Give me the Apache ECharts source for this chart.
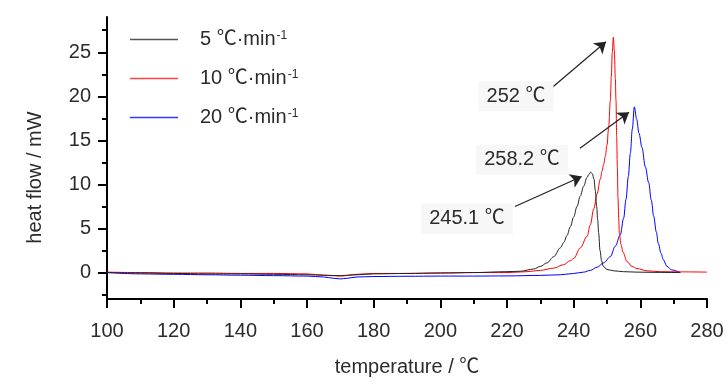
<!DOCTYPE html>
<html><head><meta charset="utf-8">
<script src="https://cdn.jsdelivr.net/npm/echarts@6/dist/echarts.min.js"></script>
<style>html,body{margin:0;padding:0;background:#fff}#c{width:728px;height:390px}</style>
</head><body><div id="c"></div>
<script>
const FONT = "'Liberation Sans','Noto Sans CJK SC',sans-serif";
const FS = 20;
const TXT = '#2b2b2b';

const seriesNames = ['5 ℃·min-1', '10 ℃·min-1', '20 ℃·min-1'];
const seriesColors = ['#222222', '#ff0000', '#0000ff'];
const legendColors = ['#555555', '#ff4545', '#3535ff'];

const tempBlack = [100,110,120,130,140,150,160,165,170,175,180,190,200,210,220,224,228,230,232,234,236,237,238,239,240,241,242,243,244,244.5,245.1,245.6,246.1,246.5,246.9,247.2,247.5,247.9,248.4,248.9,250,252,255,259,265,272];
const flowBlack = [0,-0.05,-0.1,-0.15,-0.15,-0.2,-0.25,-0.3,-0.35,-0.25,-0.15,-0.1,-0.05,0,0.1,0.15,0.4,0.7,1.1,1.8,2.8,3.4,4.2,5.2,6.3,7.5,8.7,9.8,10.8,11.1,11.4,11.2,10.6,9.3,7.5,6.0,4.5,2.5,1.3,0.7,0.35,0.2,0.1,0.05,0.02,0];

const tempRed = [100,110,120,130,140,150,160,165,170,175,180,190,200,210,220,226,230,234,237,239,240,242,244,245,246,247,248,248.5,249,249.5,250,250.5,251,251.3,251.6,251.9,252.2,252.5,252.7,252.9,253.1,253.3,253.5,253.7,254.2,254.8,256,257.5,259,262,266,272,280];
const flowRed = [0.05,0,-0.05,-0.05,-0.1,-0.1,-0.15,-0.3,-0.4,-0.2,-0.1,-0.1,-0.05,0,0,0.1,0.25,0.5,0.9,1.35,1.6,2.8,4.1,5.4,7.2,8.9,10.6,11.5,12.3,13.2,14.5,16.5,19.5,22.3,25.0,26.7,25.2,22.0,19.5,15.5,12.0,8.5,6.2,4.5,3.2,2.3,1.25,0.7,0.45,0.2,0.1,0.08,0.05];

const tempBlue = [100,110,120,130,140,150,160,165,168,170,172,175,180,190,200,210,220,230,236,240,243,245,247,249,251,252.5,254,255,255.7,256.4,257,257.6,258.2,258.9,259.6,260.5,261.5,262.5,263.3,264,264.8,265.4,266.2,266.9,268,269.4,272];
const flowBlue = [0,-0.15,-0.2,-0.25,-0.3,-0.35,-0.4,-0.5,-0.65,-0.72,-0.65,-0.5,-0.45,-0.42,-0.4,-0.4,-0.38,-0.32,-0.25,-0.1,0.05,0.25,0.6,1.1,1.8,3.0,4.3,6.2,8.3,10.9,13.5,16.3,18.8,17.4,15.8,14.2,12.0,10.2,8.2,6.4,4.6,3.3,2.2,1.45,0.7,0.3,0];

const xMin = 100, xMax = 280, xStep = 20;
const yMin = -3, yMax = 29;
const yMajorTicks = [0,5,10,15,20,25];
const yMinorTicks = [-2.5,2.5,7.5,12.5,17.5,22.5,27.5];

const peakLabels = ['252 ℃', '258.2 ℃', '245.1 ℃'];
const peakLabelAt = [[222.7,20.0],[224.5,12.8],[208,6.1]];
const arrowFrom = [[232.3,20.6],[241.9,14.1],[222.4,7.5]];
const arrowTo = [[249.7,26.2],[256.6,18.2],[242.4,10.9]];

const zip = (a,b) => a.map((v,i)=>[v,b[i]]);
const dataSets = [zip(tempBlack,flowBlack), zip(tempRed,flowRed), zip(tempBlue,flowBlue)];

const series = seriesNames.map((n,i)=>({
  name:n, type:'line', data:dataSets[i], showSymbol:false, symbol:'none',
  smooth:0.35, smoothMonotone:'x',
  lineStyle:{color:seriesColors[i], width:1}, itemStyle:{color:seriesColors[i]},
  z: 3-i, silent:true
}));
series.push({
  name:'annot', type:'line', data:[], silent:true,
  markLine:{
    silent:true, symbol:['none','arrow'], symbolSize:11,
    lineStyle:{color:'#222', width:1.2, type:'solid'}, label:{show:false},
    data: arrowFrom.map((f,i)=>[{coord:f},{coord:arrowTo[i]}])
  },
  markPoint:{
    silent:true, symbol:'circle', symbolSize:1, itemStyle:{color:'rgba(0,0,0,0)'},
    label:{show:true, position:'inside', fontFamily:FONT, fontSize:FS, color:TXT,
      backgroundColor:'#f7f7f7', padding:[4,8,6,8]},
    data: peakLabels.map((t,i)=>({coord:peakLabelAt[i], value:t, label:{formatter:t}}))
  }
});

const chart = echarts.init(document.getElementById('c'), null, {renderer:'canvas'});
chart.setOption({
  animation:false,
  backgroundColor:'#ffffff',
  grid:{left:107, right:21, top:17, bottom:91, containLabel:false},
  legend:{
    data:seriesNames.map((n,i)=>({name:n, icon:'rect',
      itemStyle:{color:legendColors[i], borderWidth:0, opacity:1},
      lineStyle:{color:legendColors[i], width:0}})),
    orient:'vertical', left:125, top:23, padding:5,
    itemWidth:48, itemHeight:1.5, itemGap:16,
    formatter: n => { const k=n.lastIndexOf('-1'); return '{a|'+n.slice(0,k)+'}{s|-1}'; },
    textStyle:{fontFamily:FONT, fontSize:FS, color:TXT, padding:[0,0,0,17], lineHeight:23,
      rich:{ a:{fontFamily:FONT, fontSize:FS, color:TXT, lineHeight:23},
             s:{fontFamily:FONT, fontSize:12, color:TXT, lineHeight:12, verticalAlign:'top', padding:[2,0,0,1]} }}
  },
  xAxis:{
    type:'value', min:xMin, max:xMax, interval:xStep,
    name:'temperature / ℃', nameLocation:'middle', nameGap:58,
    nameTextStyle:{fontFamily:FONT, fontSize:FS, color:TXT},
    axisLine:{show:true, onZero:false, lineStyle:{color:'#000', width:2}},
    axisTick:{show:true, inside:false, length:9, lineStyle:{color:'#000', width:2}},
    minorTick:{show:true, splitNumber:2, length:5, lineStyle:{color:'#000', width:2}},
    splitLine:{show:false}, minorSplitLine:{show:false},
    axisLabel:{fontFamily:FONT, fontSize:FS, color:TXT, margin:22}
  },
  yAxis:[{
    type:'value', min:yMin, max:yMax,
    name:'heat flow / mW', nameLocation:'middle', nameGap:62, nameRotate:90,
    nameTextStyle:{fontFamily:FONT, fontSize:FS, color:TXT, padding:[0,39,0,0]},
    axisLine:{show:true, onZero:false, lineStyle:{color:'#000', width:2}},
    axisTick:{show:true, inside:false, length:9, customValues:yMajorTicks, lineStyle:{color:'#000', width:2}},
    axisLabel:{fontFamily:FONT, fontSize:FS, color:TXT, margin:16, customValues:yMajorTicks},
    splitLine:{show:false}
  },{
    type:'value', min:yMin, max:yMax, position:'left',
    axisLine:{show:false},
    axisTick:{show:true, inside:false, length:5, customValues:yMinorTicks, lineStyle:{color:'#000', width:2}},
    axisLabel:{show:false}, splitLine:{show:false}
  }],
  series: series
});
</script></body></html>
